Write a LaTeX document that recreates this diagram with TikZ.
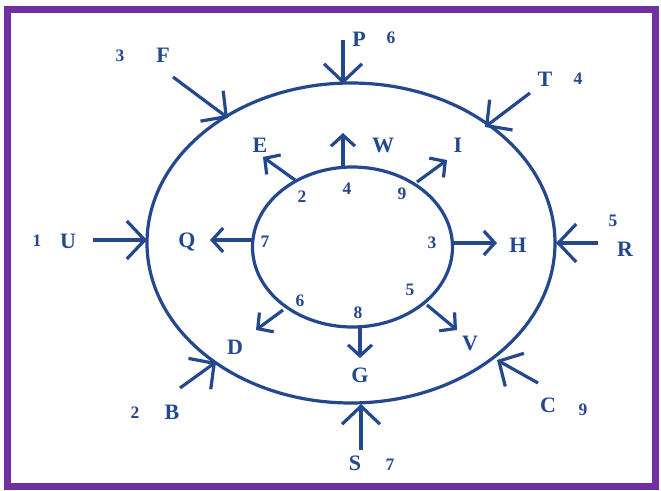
\documentclass[tikz,border=0pt]{standalone}
\usepackage{fontspec}
\setmainfont{Liberation Serif}
\usetikzlibrary{arrows.meta}
\definecolor{dblue}{RGB}{35,72,142}
\definecolor{framec}{RGB}{112,48,160}
\tikzset{
 lbl/.style={text=dblue, font=\bfseries\fontsize{22}{22}\selectfont, inner sep=0pt},
 num/.style={text=dblue, font=\bfseries\fontsize{17.5}{17.5}\selectfont, inner sep=0pt},
 inarr/.style={draw=dblue, line width=3.2pt, -{Straight Barb[length=18pt,width=38pt]}},
 outarr/.style={draw=dblue, line width=3.2pt, -{Straight Barb[length=11pt,width=24pt]}},
 ring/.style={draw=dblue, line width=3.2pt}
}
\begin{document}
\begin{tikzpicture}[x=1pt,y=-1pt]
\useasboundingbox (0,0) rectangle (661,490);
\fill[white] (0,0) rectangle (661,490);
\draw[framec, line width=7pt] (7,9) rectangle (655,486);
% rings
\draw[ring] (351,243) ellipse [x radius=204, y radius=160];
\draw[ring] (352.5,247) ellipse [x radius=100, y radius=80];
% outer incoming arrows
\coordinate (p0) at (343,40);  \coordinate (p1) at (343,84);
\coordinate (f0) at (173,77);  \coordinate (f1) at (228,118);
\coordinate (t0) at (530,93);  \coordinate (t1) at (485,127);
\coordinate (u0) at (93,240);  \coordinate (u1) at (147,240);
\coordinate (r0) at (598,243); \coordinate (r1) at (556,243);
\coordinate (b0) at (180,388); \coordinate (b1) at (216,362);
\coordinate (c0) at (538,383); \coordinate (c1) at (497,360);
\coordinate (s0) at (361,450); \coordinate (s1) at (361,404);
\foreach \a in {p,f,t,u,r,b,c,s} {\draw[inarr] (\a0) -- (\a1);}
% inner outgoing arrows
\coordinate (e0) at (295,180); \coordinate (e1) at (263,157);
\coordinate (w0) at (343,167); \coordinate (w1) at (343,133);
\coordinate (i0) at (417,182); \coordinate (i1) at (447,160);
\coordinate (q0) at (252,240); \coordinate (q1) at (210,240);
\coordinate (h0) at (453,243); \coordinate (h1) at (497,243);
\coordinate (d0) at (283,310); \coordinate (d1) at (256,330);
\coordinate (g0) at (360,327); \coordinate (g1) at (360,358);
\coordinate (v0) at (427,305); \coordinate (v1) at (457,330);
\foreach \a in {e,w,i,q,h,d,g,v} {\draw[outarr] (\a0) -- (\a1);}
% outer labels
\node[lbl] (P) at (359,39) {P};  \node[num] (n6a) at (391,38) {6};
\node[num] (n3a) at (120,56) {3}; \node[lbl] (F) at (163,55) {F};
\node[lbl] (T) at (545,79) {T};  \node[num] (n4a) at (578,79) {4};
\node[num] (n1) at (37,241) {1}; \node[lbl] (U) at (68,241) {U};
\node[num] (n5a) at (613,221) {5}; \node[lbl] (R) at (625,249) {R};
\node[num] (n2a) at (135,413) {2}; \node[lbl] (B) at (172,412) {B};
\node[lbl] (C) at (548,405) {C};  \node[num] (n9a) at (583,410) {9};
\node[lbl] (S) at (355,463) {S};  \node[num] (n7a) at (390,465) {7};
% inner labels
\node[lbl] (E) at (260,145) {E};
\node[lbl] (W) at (383,145) {W};
\node[lbl] (I) at (458,145) {I};
\node[lbl] (Q) at (187,242) {Q};
\node[lbl] (H) at (518,245) {H};
\node[lbl] (D) at (235,347) {D};
\node[lbl] (G) at (360,375) {G};
\node[lbl] (V) at (470,343) {V};
\node[num] (n2) at (302,197) {2};
\node[num] (n4) at (347,189) {4};
\node[num] (n9) at (402,194) {9};
\node[num] (n7) at (265,242) {7};
\node[num] (n3) at (432,243) {3};
\node[num] (n6) at (300,301) {6};
\node[num] (n8) at (358,313) {8};
\node[num] (n5) at (410,290) {5};
\end{tikzpicture}
\end{document}
